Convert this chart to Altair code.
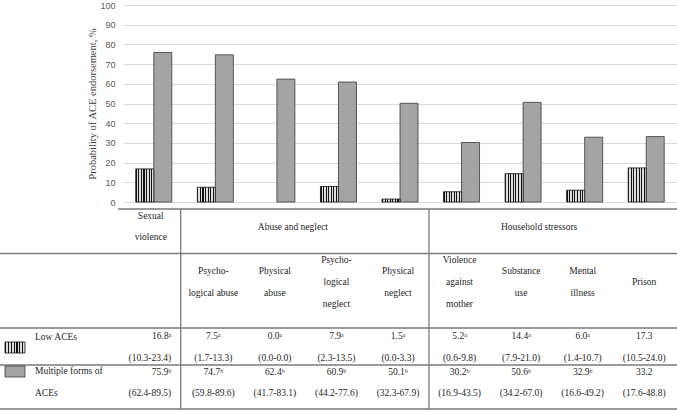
import altair as alt
import pandas as pd

# ---------------- data ----------------
categories = ["Sexual violence", "Psychological abuse", "Physical abuse",
              "Psychological neglect", "Physical neglect", "Violence against mother",
              "Substance use", "Mental illness", "Prison"]
low_values = [16.8, 7.5, 0.0, 7.9, 1.5, 5.2, 14.4, 6.0, 17.3]
multi_values = [75.9, 74.7, 62.4, 60.9, 50.1, 30.2, 50.6, 32.9, 33.2]
low_sup = ["ᵃ", "ᵃ", "ᵃ", "ᵃ", "ᵃ", "ᵃ", "ᵃ", "ᵃ", ""]
multi_sup = ["ᵇ", "ᵇ", "ᵇ", "ᵇ", "ᵇ", "ᵇ", "ᵇ", "ᵇ", ""]
low_ci = ["(10.3-23.4)", "(1.7-13.3)", "(0.0-0.0)", "(2.3-13.5)", "(0.0-3.3)",
          "(0.6-9.8)", "(7.9-21.0)", "(1.4-10.7)", "(10.5-24.0)"]
multi_ci = ["(62.4-89.5)", "(59.8-89.6)", "(41.7-83.1)", "(44.2-77.6)", "(32.3-67.9)",
            "(16.9-43.5)", "(34.2-67.0)", "(16.6-49.2)", "(17.6-48.8)"]
column_headers = ["", "Psycho-\nlogical abuse", "Physical\nabuse", "Psycho-\nlogical\nneglect",
                  "Physical\nneglect", "Violence\nagainst\nmother", "Substance\nuse",
                  "Mental\nillness", "Prison"]
group_labels = ["Sexual\nviolence", "Abuse and neglect", "Household stressors"]
group_anchors = ["Sexual violence", "Physical abuse", "Substance use"]
row_labels = ["Low ACEs", "Multiple forms of\nACEs"]
series = ["low", "multi"]
y_ticks = [0, 10, 20, 30, 40, 50, 60, 70, 80, 90, 100]

df = pd.DataFrame({
    "cat": categories,
    "low": low_values,
    "multi": multi_values,
    "low_text": [f"{v:.1f}{s}\n{c}" for v, s, c in zip(low_values, low_sup, low_ci)],
    "multi_text": [f"{v:.1f}{s}\n{c}" for v, s, c in zip(multi_values, multi_sup, multi_ci)],
    "header": column_headers,
    "nlines": [len(h.split("\n")) if h else 0 for h in column_headers],
})
groups_df = pd.DataFrame({"cat": group_anchors, "label": group_labels})

# ---------------- styles ----------------
SERIF = "Liberation Serif"
TXT = "#262626"
LINE = "#7a7a7a"
GRAY_FILL = "#a4a4a4"

stops = []
n_stripes = 7
for k in range(n_stripes):
    a = k / n_stripes
    b = (k + 0.42) / n_stripes
    c = (k + 1) / n_stripes
    stops += [alt.GradientStop(offset=a, color="#111111"),
              alt.GradientStop(offset=b, color="#111111"),
              alt.GradientStop(offset=b, color="#dedede"),
              alt.GradientStop(offset=c, color="#dedede")]
stripe = alt.LinearGradient(gradient="linear", stops=stops, x1=0, x2=1, y1=0, y2=0)

x_scale = alt.Scale(domain=categories, paddingInner=0.415, paddingOuter=0.2075)
off_scale = alt.Scale(domain=series, paddingInner=0, paddingOuter=0)
y_scale = alt.Scale(domain=[0, 100], nice=False)


def X(band=0.5):
    return alt.X("cat:N", scale=x_scale, axis=None, sort=categories, bandPosition=band)


y_axis = alt.Axis(values=y_ticks, grid=True, gridColor="#d9d9d9", gridWidth=1,
                  domain=False, ticks=False, labelFont="Liberation Sans", labelFontSize=9,
                  labelColor="#595959", labelPadding=8,
                  title="Probability of ACE endorsement, %", titleFont=SERIF,
                  titleFontSize=10.5, titleFontWeight="normal", titleColor="#404040",
                  titlePadding=2)

base = alt.Chart(df)

low_bars = base.transform_filter("datum.low > 0").transform_calculate(g="'low'").mark_bar(
    fill=stripe, stroke="#111111", strokeWidth=0.8
).encode(
    x=alt.X("cat:N", scale=x_scale, axis=None, sort=categories),
    xOffset=alt.XOffset("g:N", scale=off_scale),
    y=alt.Y("low:Q", scale=y_scale, axis=y_axis),
)

multi_bars = base.transform_calculate(g="'multi'").mark_bar(
    fill=GRAY_FILL, stroke="#3a3a3a", strokeWidth=0.8
).encode(
    x=alt.X("cat:N", scale=x_scale, axis=None, sort=categories),
    xOffset=alt.XOffset("g:N", scale=off_scale),
    y=alt.Y("multi:Q", scale=y_scale, axis=y_axis),
)

# origin of plot area is at (123, 5) on the page
OX, OY = 123, 5


def txt(**kw):
    opts = dict(font=SERIF, fontSize=9.5, color=TXT, lineBreak="\n", baseline="middle")
    opts.update(kw)
    return opts


first = f"datum.cat == '{categories[0]}'"
rest = f"datum.cat != '{categories[0]}'"

# y positions below are of the first text line (multi-line text flows downward)
low_txt_rest = base.transform_filter(rest).mark_text(**txt(lineHeight=22.3, dx=-2)).encode(
    x=X(), y=alt.value(336 - OY), text="low_text:N")
low_txt_first = base.transform_filter(first).mark_text(**txt(lineHeight=22.3, dx=17.5, align="right")).encode(
    x=X(), y=alt.value(336 - OY), text="low_text:N")
multi_txt_rest = base.transform_filter(rest).mark_text(**txt(lineHeight=21.6, dx=-2)).encode(
    x=X(), y=alt.value(371.7 - OY), text="multi_text:N")
multi_txt_first = base.transform_filter(first).mark_text(**txt(lineHeight=21.6, dx=17.5, align="right")).encode(
    x=X(), y=alt.value(371.7 - OY), text="multi_text:N")

HEADER_CENTER, HEADER_LH = 282, 22
header_layers = []
for n in (1, 2, 3):
    header_layers.append(
        base.transform_filter(f"datum.nlines == {n}").mark_text(**txt(lineHeight=HEADER_LH, dx=-2)).encode(
            x=X(), y=alt.value(HEADER_CENTER - (n - 1) * HEADER_LH / 2 - OY), text="header:N")
    )

groups = alt.Chart(groups_df)
group_first = groups.transform_filter(first).mark_text(**txt(lineHeight=21.6, dx=-3)).encode(
    x=X(), y=alt.value(215.7 - OY), text="label:N")
group_rest = groups.transform_filter(rest).mark_text(**txt(dx=-2)).encode(
    x=X(1.0), y=alt.value(226.5 - OY), text="label:N")

one = alt.Data(values=[{}])


def hline(y, x0, x1):
    return alt.Chart(one).mark_rule(color=LINE, strokeWidth=1.3).encode(
        x=alt.value(x0 - OX), x2=alt.value(x1 - OX), y=alt.value(y - OY))


def vline(x, y0, y1):
    return alt.Chart(one).mark_rule(color=LINE, strokeWidth=1.3).encode(
        x=alt.value(x - OX), y=alt.value(y0 - OY), y2=alt.value(y1 - OY))


lines = [
    hline(209, 118, 677), hline(253.5, 0, 677), hline(328, 0, 677),
    hline(365, 0, 677), hline(409, 0, 677),
    vline(180.7, 209, 409), vline(429, 209, 409),
]

low_icon = alt.Chart(one).mark_rect(fill=stripe, stroke="#111111", strokeWidth=0.8).encode(
    x=alt.value(5 - OX), x2=alt.value(25 - OX), y=alt.value(342 - OY), y2=alt.value(353 - OY))
multi_icon = alt.Chart(one).mark_rect(fill=GRAY_FILL, stroke="#3a3a3a", strokeWidth=0.8).encode(
    x=alt.value(5 - OX), x2=alt.value(25 - OX), y=alt.value(366 - OY), y2=alt.value(377 - OY))

low_label = alt.Chart(one).mark_text(**txt(align="left")).encode(
    x=alt.value(35 - OX), y=alt.value(337.3 - OY), text=alt.value(row_labels[0]))
multi_label = alt.Chart(one).mark_text(**txt(align="left", lineHeight=22.3)).encode(
    x=alt.value(35 - OX), y=alt.value(371 - OY), text=alt.value(row_labels[1]))

chart = alt.layer(
    multi_bars, low_bars,
    *lines,
    low_txt_rest, low_txt_first, multi_txt_rest, multi_txt_first, *header_layers,
    group_first, group_rest,
    low_icon, multi_icon, low_label, multi_label,
).properties(
    width=677 - OX, height=202 - OY,
    padding={"left": OX, "top": OY, "right": 0, "bottom": 410 - 202},
    autosize="none",
    background="white",
).configure_view(stroke=None)

chart.save("out.html", embed_options={"renderer": "svg", "actions": False})
